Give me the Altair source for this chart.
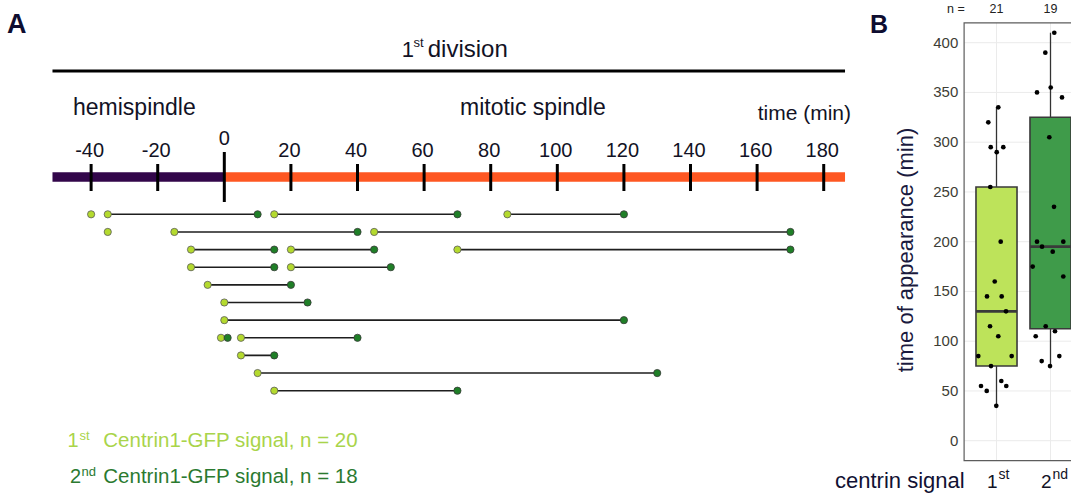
import altair as alt
import pandas as pd
import numpy as np

# ---------------- Panel A data ----------------
seg_row   = [1, 1, 1, 1, 2, 2, 2, 3, 3, 3, 4, 4, 5, 6, 7, 8, 8, 9, 10, 11]
seg_start = [-40, -35, 15, 85, -35, -15, 45, -10, 20, 70, -10, 20, -5, 0, 0, -1, 5, 5, 10, 15]
seg_end   = [None, 10, 70, 120, None, 40, 170, 15, 45, 170, 15, 50, 20, 25, 120, 1, 40, 15, 130, 70]

phase_names = ["hemispindle", "mitotic spindle"]
phase_start = [-51.6, 0]
phase_end = [0, 186.4]
phase_colors = ["#32064a", "#fe5722"]

tick_values = [-40, -20, 20, 40, 60, 80, 100, 120, 140, 160, 180]
zero_tick = [0]

# ---------------- Panel B data ----------------
cat_index = [1, 2]
cat_digit = ["1", "2"]
cat_sup = ["st", "nd"]
cat_n = ["21", "19"]
box_colors = ["#bde35a", "#3f9b4a"]

first_values = [335, 320, 295, 295, 290, 255, 200, 160, 145, 145, 130, 115, 105, 85, 85, 75, 55, 60, 55, 50, 35]
first_jitter = [0.033, -0.152, -0.107, 0.126, 0.004, -0.115, 0.078, -0.033, -0.176, 0.096, 0.176,
                -0.120, 0.033, -0.337, 0.281, -0.102, -0.287, 0.089, 0.181, -0.181, -0.004]
second_values = [410, 390, 350, 355, 345, 305, 235, 200, 200, 195, 190, 175, 165, 115, 110, 105, 85, 80, 75]
second_jitter = [0.070, -0.096, -0.250, 0.004, 0.213, -0.022, 0.065, -0.250, 0.237, -0.157, 0.041,
                 -0.330, 0.237, -0.089, 0.083, -0.274, 0.163, -0.163, -0.009]

y_ticks = [0, 50, 100, 150, 200, 250, 300, 350, 400]

LIGHT = "#b4da2e"
DARK = "#1f7f27"
TXT = "#121225"
NAVY = "#0e0d30"

W, H = 1071, 498

# ---------------- scales ----------------
tscale = alt.Scale(domain=[-67.36, 254.26])
rscale = alt.Scale(domain=[-11.149, 17.083], reverse=True)
cscale = alt.Scale(domain=[-17.454, 2.3796])
vscale = alt.Scale(domain=[-57.59, 442.91])


def text(txt, x, y, size, color=TXT, bold=False, align="left", angle=0, baseline="alphabetic"):
    props = dict(fontSize=size, color=color, align=align, baseline=baseline,
                 fontWeight="bold" if bold else "normal")
    if angle:
        props["angle"] = angle
    return alt.Chart(pd.DataFrame({"s": [txt]})).mark_text(**props).encode(
        x=alt.value(x), y=alt.value(y), text="s:N")


# ---------------- Panel A ----------------
seg = pd.DataFrame({"row": seg_row, "start": seg_start, "end": seg_end})
seg_full = seg.dropna()
phase = pd.DataFrame({"phase": phase_names, "t0": phase_start, "t1": phase_end})
span = pd.DataFrame({"t0": [min(phase_start)], "t1": [max(phase_end)]})
ticks = pd.DataFrame({"t": tick_values, "label": [str(v) for v in tick_values]})
zero = pd.DataFrame({"t": zero_tick, "label": [str(v) for v in zero_tick]})

div_line = alt.Chart(span).mark_rule(color="black", strokeWidth=3).encode(
    x=alt.X("t0:Q", scale=tscale, axis=None), x2="t1:Q", y=alt.value(71))
bars = alt.Chart(phase).mark_rule(strokeWidth=9.5, strokeCap="butt").encode(
    x=alt.X("t0:Q", scale=tscale, axis=None), x2="t1:Q", y=alt.value(177),
    color=alt.Color("phase:N", scale=alt.Scale(domain=phase_names, range=phase_colors), legend=None))
tick_marks = alt.Chart(ticks).mark_rule(color="black", strokeWidth=3).encode(
    x=alt.X("t:Q", scale=tscale, axis=None), y=alt.value(164), y2=alt.value(191))
zero_mark = alt.Chart(zero).mark_rule(color="black", strokeWidth=3).encode(
    x=alt.X("t:Q", scale=tscale, axis=None), y=alt.value(152), y2=alt.value(202))
tick_labels = alt.Chart(ticks).mark_text(fontSize=20, color=TXT, align="center", baseline="alphabetic", dx=-1.5).encode(
    x=alt.X("t:Q", scale=tscale, axis=None), y=alt.value(156.7), text="label:N")
zero_label = alt.Chart(zero).mark_text(fontSize=20, color=TXT, align="center", baseline="alphabetic").encode(
    x=alt.X("t:Q", scale=tscale, axis=None), y=alt.value(145), text="label:N")

seg_lines = alt.Chart(seg_full).mark_rule(color="#1e1e1e", strokeWidth=1.6).encode(
    x=alt.X("start:Q", scale=tscale, axis=None), x2="end:Q",
    y=alt.Y("row:Q", scale=rscale, axis=None))
start_pts = alt.Chart(seg).mark_circle(size=52, fill=LIGHT, stroke="#5a5a5a", strokeWidth=0.8, opacity=1).encode(
    x=alt.X("start:Q", scale=tscale, axis=None), y=alt.Y("row:Q", scale=rscale, axis=None))
end_pts = alt.Chart(seg_full).mark_circle(size=52, fill=DARK, stroke="#3a3a3a", strokeWidth=0.8, opacity=1).encode(
    x=alt.X("end:Q", scale=tscale, axis=None), y=alt.Y("row:Q", scale=rscale, axis=None))

panel_a = alt.layer(
    div_line, bars, tick_marks, zero_mark, tick_labels, zero_label,
    seg_lines, start_pts, end_pts,
    text("A", 7, 33.3, 27, NAVY, bold=True),
    text("1", 414, 56.7, 22, align="right"),
    text("st", 413.6, 46.7, 13),
    text("division", 427.7, 56.7, 24),
    text("hemispindle", 73, 115, 23),
    text("mitotic spindle", 460, 115, 23),
    text("time (min)", 851, 120, 21, align="right"),
    text("1", 78.5, 446.7, 20, "#a9d44a", align="right"),
    text("st", 79.5, 439.5, 13, "#a9d44a"),
    text("Centrin1-GFP signal, n = 20", 103.3, 446.7, 20.5, "#a9d44a"),
    text("2", 70, 483.3, 20, "#2b7a30"),
    text("nd", 81.5, 476, 13, "#2b7a30"),
    text("Centrin1-GFP signal, n = 18", 103.3, 483.3, 20.5, "#2b7a30"),
)

# ---------------- Panel B ----------------
pts = pd.DataFrame({
    "cat": [1] * len(first_values) + [2] * len(second_values),
    "v": first_values + second_values,
    "jit": first_jitter + second_jitter,
})
pts["xj"] = pts["cat"] + pts["jit"]

stats = []
for c, vals in zip(cat_index, [first_values, second_values]):
    a = np.array(vals, dtype=float)
    q1, med, q3 = np.percentile(a, [25, 50, 75])
    iqr = q3 - q1
    lo = a[a >= q1 - 1.5 * iqr].min()
    hi = a[a <= q3 + 1.5 * iqr].max()
    stats.append(dict(cat=c, q1=q1, med=med, q3=q3, lo=lo, hi=hi))
box = pd.DataFrame(stats)
box["digit"] = cat_digit
box["sup"] = cat_sup
box["n"] = cat_n

grid_h = pd.DataFrame({"v": y_ticks, "c0": 0.4, "c1": 2.6, "label": [str(v) for v in y_ticks]})
grid_v = pd.DataFrame({"cat": cat_index, "v0": -20, "v1": 420})
frame = pd.DataFrame({"c0": [0.4], "c1": [2.6], "v0": [-20], "v1": [420]})

X = lambda f: alt.X(f, scale=cscale, axis=None)
Y = lambda f: alt.Y(f, scale=vscale, axis=None)

gh = alt.Chart(grid_h).mark_rule(color="#ebebeb", strokeWidth=1).encode(x=X("c0:Q"), x2="c1:Q", y=Y("v:Q"))
gv = alt.Chart(grid_v).mark_rule(color="#ebebeb", strokeWidth=1).encode(x=X("cat:Q"), y=Y("v0:Q"), y2="v1:Q")
wl = alt.Chart(box).mark_rule(color="#333333", strokeWidth=1.3).encode(x=X("cat:Q"), y=Y("lo:Q"), y2="q1:Q")
wh = alt.Chart(box).mark_rule(color="#333333", strokeWidth=1.3).encode(x=X("cat:Q"), y=Y("q3:Q"), y2="hi:Q")
boxes = alt.Chart(box).transform_calculate(b0="datum.cat - 0.38", b1="datum.cat + 0.38").mark_rect(
    stroke="#3a3a3a", strokeWidth=1.6).encode(
    x=X("b0:Q"), x2="b1:Q", y=Y("q1:Q"), y2="q3:Q",
    fill=alt.Fill("cat:N", scale=alt.Scale(domain=cat_index, range=box_colors), legend=None))
meds = alt.Chart(box).transform_calculate(b0="datum.cat - 0.38", b1="datum.cat + 0.38").mark_rule(
    color="#3a3a3a", strokeWidth=2.8).encode(x=X("b0:Q"), x2="b1:Q", y=Y("med:Q"))
dots = alt.Chart(pts).mark_circle(size=22, color="black", opacity=1).encode(x=X("xj:Q"), y=Y("v:Q"))
border = alt.Chart(frame).mark_rect(fillOpacity=0, stroke="#5c5c5c", strokeWidth=1.2).encode(
    x=X("c0:Q"), x2="c1:Q", y=Y("v0:Q"), y2="v1:Q")
ylab = alt.Chart(grid_h).mark_text(fontSize=15, color="#3d3d35", align="right", baseline="middle").encode(
    x=alt.value(958.3), y=Y("v:Q"), text="label:N")
nlab = alt.Chart(box).mark_text(fontSize=12.5, color="#222222", align="center", baseline="alphabetic").encode(
    x=X("cat:Q"), y=alt.value(13), text="n:N")
clab = alt.Chart(box).mark_text(fontSize=19, color=TXT, align="right", baseline="alphabetic", dx=1).encode(
    x=X("cat:Q"), y=alt.value(488.3), text="digit:N")
slab = alt.Chart(box).mark_text(fontSize=14, color=TXT, align="left", baseline="alphabetic", dx=2).encode(
    x=X("cat:Q"), y=alt.value(479), text="sup:N")

panel_b = alt.layer(
    gh, gv, wl, wh, boxes, meds, dots, border, ylab, nlab, clab, slab,
    text("B", 870, 33.3, 25, NAVY, bold=True),
    text("n =", 947, 13, 12.5, "#222222"),
    text("time of appearance (min)", 906, 250, 22, "#1a1a3e", align="center", angle=270, baseline="middle"),
    text("centrin signal", 835, 488.3, 22, "#111133"),
)

chart = alt.layer(panel_a, panel_b).resolve_scale(
    x="independent", y="independent", color="independent", fill="independent"
).properties(width=W, height=H, padding=0, autosize="none", background="white"
).configure_view(stroke=None).configure_text(font="Liberation Sans")

chart.save("out.html", embed_options={"renderer": "svg", "actions": False})
